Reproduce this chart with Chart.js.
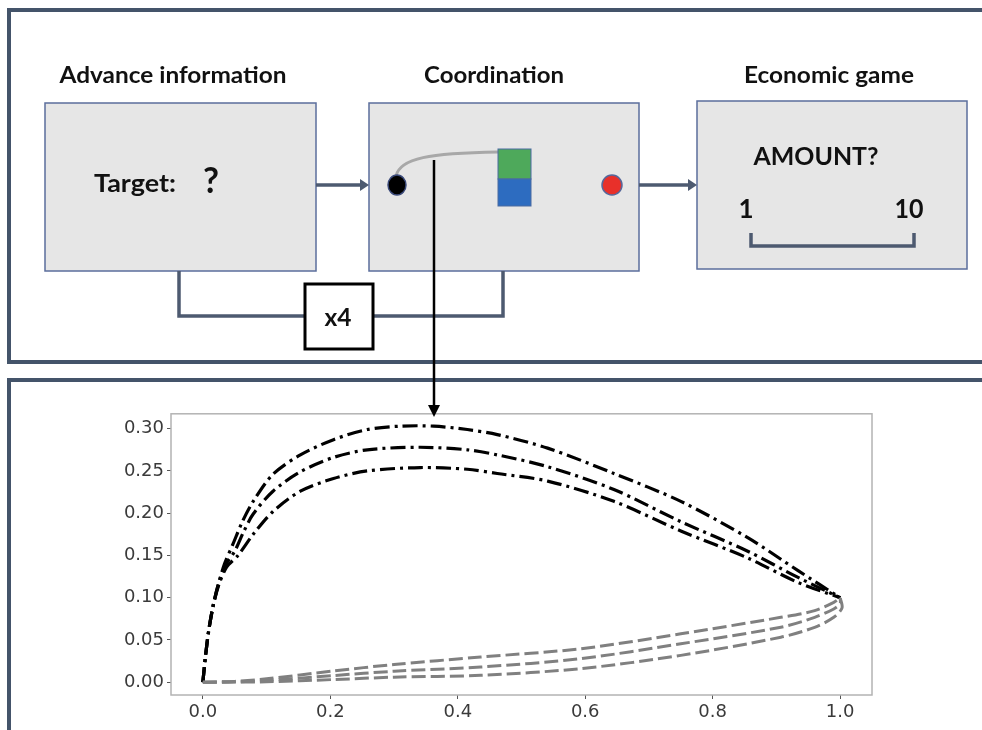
<!DOCTYPE html>
<html>
<head>
<meta charset="utf-8">
<script src="https://cdn.jsdelivr.net/npm/chart.js@4"></script>
<style>
  html, body { margin: 0; padding: 0; background: #fff; }
  #page { position: relative; width: 982px; height: 730px; overflow: hidden; }
  #plot { position: absolute; left: 100px; top: 400px; width: 800px; height: 330px; z-index: 1; }
  #diagram { position: absolute; left: 0; top: 0; z-index: 2; pointer-events: none; }
  #diagram text { font-family: Lato, "Liberation Sans", sans-serif; font-weight: bold; fill: #111; }
</style>
</head>
<body>
<div id="page">
  <div id="plot"><canvas id="chart"></canvas></div>
  <svg id="diagram" width="982" height="730" viewBox="0 0 982 730">
    <!-- panel frames -->
    <g stroke="#44546a" stroke-width="4" fill="none">
      <line x1="7" y1="10" x2="982" y2="10"/>
      <line x1="9" y1="8" x2="9" y2="364"/>
      <line x1="7" y1="362" x2="982" y2="362"/>
      <line x1="7" y1="380" x2="982" y2="380"/>
      <line x1="9" y1="378" x2="9" y2="730"/>
    </g>
    <!-- stage titles -->
    <text x="173" y="83" font-size="22" text-anchor="middle" textLength="227" lengthAdjust="spacingAndGlyphs">Advance information</text>
    <text x="494" y="83" font-size="22" text-anchor="middle" textLength="140" lengthAdjust="spacingAndGlyphs">Coordination</text>
    <text x="829" y="83" font-size="22" text-anchor="middle" textLength="170" lengthAdjust="spacingAndGlyphs">Economic game</text>
    <!-- stage boxes -->
    <g fill="#e6e6e6" stroke="#5b6e9c" stroke-width="1.5">
      <rect x="45" y="103" width="271" height="168"/>
      <rect x="369" y="103" width="270" height="168"/>
      <rect x="697" y="101" width="270" height="168"/>
    </g>
    <!-- flow arrows -->
    <g stroke="#4d5a70" stroke-width="3.5" fill="none">
      <line x1="316" y1="185" x2="362" y2="185"/>
      <line x1="639" y1="185" x2="690" y2="185"/>
      <polyline points="179,271 179,316 305,316"/>
      <polyline points="373,316 503,316 503,271"/>
      <polyline points="751,233 751,246 914,246 914,233"/>
    </g>
    <g fill="#4d5a70">
      <polygon points="360,179 369,185 360,191"/>
      <polygon points="688,179 697,185 688,191"/>
    </g>
    <!-- repeat box -->
    <rect x="305" y="284" width="68" height="65" fill="#fff" stroke="#000" stroke-width="3"/>
    <text x="338" y="326" font-size="24" text-anchor="middle" textLength="27" lengthAdjust="spacingAndGlyphs">x4</text>
    <!-- advance information -->
    <text x="94" y="192" font-size="24" textLength="82" lengthAdjust="spacingAndGlyphs">Target:</text>
    <text x="211" y="193" font-size="36" text-anchor="middle" textLength="16" lengthAdjust="spacingAndGlyphs">?</text>
    <!-- coordination screen -->
    <path d="M 396 176 C 400 158, 430 153, 498 152" stroke="#a8a8a8" stroke-width="3" fill="none"/>
    <ellipse cx="397" cy="185" rx="9" ry="10" fill="#000" stroke="#3b4a7a" stroke-width="1.5"/>
    <circle cx="612" cy="185" r="10" fill="#e8302a" stroke="#56679a" stroke-width="1.5"/>
    <rect x="498" y="149" width="33" height="30" fill="#4ea95b" stroke="#4a6aa0" stroke-width="1"/>
    <rect x="498" y="179" width="33" height="27" fill="#2d6cc0" stroke="#4a6aa0" stroke-width="1"/>
    <!-- economic game -->
    <text x="816" y="165" font-size="24" text-anchor="middle" textLength="125" lengthAdjust="spacingAndGlyphs">AMOUNT?</text>
    <text x="746" y="218" font-size="26" text-anchor="middle">1</text>
    <text x="909" y="218" font-size="26" text-anchor="middle" textLength="29" lengthAdjust="spacingAndGlyphs">10</text>
    <!-- pointer from the trajectory to the plot -->
    <line x1="434" y1="160" x2="434" y2="407" stroke="#000" stroke-width="2.5"/>
    <polygon points="428,405 440,405 434,417" fill="#000"/>
  </svg>
</div>
<script>
// Trajectories: three dash-dot (black) and three dashed (grey), x vs y
const dashDotTopX = [0, 0.004, 0.009, 0.016, 0.024, 0.034, 0.047, 0.062, 0.079, 0.11, 0.153, 0.205, 0.258, 0.31, 0.362, 0.415, 0.462, 0.541, 0.645, 0.75, 0.855, 0.934, 1.0];
const dashDotTopY = [0, 0.03, 0.06, 0.09, 0.115, 0.14, 0.163, 0.19, 0.214, 0.246, 0.269, 0.287, 0.299, 0.303, 0.303, 0.299, 0.293, 0.277, 0.247, 0.214, 0.171, 0.132, 0.1];

const dashDotMidX = [0, 0.004, 0.009, 0.016, 0.024, 0.035, 0.05, 0.064, 0.079, 0.11, 0.153, 0.205, 0.258, 0.341, 0.415, 0.462, 0.541, 0.645, 0.75, 0.855, 0.934, 1.0];
const dashDotMidY = [0, 0.03, 0.06, 0.09, 0.115, 0.138, 0.155, 0.178, 0.199, 0.226, 0.249, 0.266, 0.275, 0.278, 0.275, 0.269, 0.255, 0.228, 0.19, 0.155, 0.124, 0.1];

const dashDotLowX = [0, 0.004, 0.009, 0.016, 0.025, 0.037, 0.055, 0.079, 0.11, 0.153, 0.205, 0.258, 0.341, 0.415, 0.462, 0.541, 0.645, 0.75, 0.855, 0.934, 1.0];
const dashDotLowY = [0, 0.03, 0.06, 0.09, 0.115, 0.136, 0.15, 0.175, 0.202, 0.226, 0.241, 0.25, 0.254, 0.252, 0.247, 0.238, 0.214, 0.179, 0.147, 0.118, 0.1];

const dashedTopX = [0, 0.05, 0.1, 0.205, 0.3, 0.436, 0.593, 0.75, 0.907, 0.96, 0.99, 1.0];
const dashedTopY = [0, 0.001, 0.004, 0.0133, 0.021, 0.0298, 0.0396, 0.0573, 0.0768, 0.0847, 0.0945, 0.1];

const dashedMidX = [0, 0.05, 0.1, 0.205, 0.3, 0.436, 0.593, 0.75, 0.907, 0.96, 0.99, 1.0, 1.0];
const dashedMidY = [0, 0.0005, 0.002, 0.0079, 0.013, 0.018, 0.0279, 0.0455, 0.0651, 0.0768, 0.0867, 0.093, 0.1];

const dashedLowX = [0, 0.05, 0.1, 0.205, 0.3, 0.436, 0.593, 0.75, 0.907, 0.96, 0.99, 1.003, 1.0];
const dashedLowY = [0, 0.0002, 0.0005, 0.0032, 0.006, 0.0082, 0.0161, 0.0318, 0.0533, 0.065, 0.0768, 0.088, 0.1];

// Axis ticks and limits
const xTicks = [0.0, 0.2, 0.4, 0.6, 0.8, 1.0];
const yTicks = [0.00, 0.05, 0.10, 0.15, 0.20, 0.25, 0.30];
const xLimits = [-0.05, 1.05];
const yLimits = [-0.0151, 0.3176];

const toPoints = (xs, ys) => xs.map((x, i) => ({ x: x, y: ys[i] }));

const dashedStyle = {
  borderColor: '#808080', borderWidth: 3, borderDash: [14, 5],
  pointRadius: 0, showLine: true, fill: false, tension: 0.3, borderCapStyle: 'butt'
};
const dashDotStyle = {
  borderColor: '#000000', borderWidth: 3.2, borderDash: [15, 5, 3, 5],
  pointRadius: 0, showLine: true, fill: false, tension: 0.3, borderCapStyle: 'butt'
};

// Box around the plotting area
const frame = {
  id: 'frame',
  afterDatasetsDraw(chart) {
    const a = chart.chartArea, c = chart.ctx;
    c.save();
    c.strokeStyle = '#b3b3b3';
    c.lineWidth = 1.5;
    c.strokeRect(a.left, a.top, a.right - a.left, a.bottom - a.top);
    c.restore();
  }
};

const tickFont = { family: '"DejaVu Sans", sans-serif', size: 18 };

new Chart(document.getElementById('chart'), {
  type: 'scatter',
  data: {
    datasets: [
      Object.assign({ data: toPoints(dashedTopX, dashedTopY) }, dashedStyle),
      Object.assign({ data: toPoints(dashedMidX, dashedMidY) }, dashedStyle),
      Object.assign({ data: toPoints(dashedLowX, dashedLowY) }, dashedStyle),
      Object.assign({ data: toPoints(dashDotTopX, dashDotTopY) }, dashDotStyle),
      Object.assign({ data: toPoints(dashDotMidX, dashDotMidY) }, dashDotStyle),
      Object.assign({ data: toPoints(dashDotLowX, dashDotLowY) }, dashDotStyle)
    ]
  },
  options: {
    responsive: true,
    maintainAspectRatio: false,
    animation: false,
    layout: { padding: { left: 0, right: 28, top: 12, bottom: 0 } },
    plugins: { legend: { display: false }, tooltip: { enabled: false } },
    scales: {
      x: {
        type: 'linear', min: xLimits[0], max: xLimits[1],
        afterBuildTicks: s => { s.ticks = xTicks.map(v => ({ value: v })); },
        afterFit: s => { s.height = 35; },
        ticks: { font: tickFont, color: '#3a3a3a', padding: 3, maxRotation: 0,
                 callback: v => Number(v).toFixed(1) },
        grid: { drawOnChartArea: false, drawTicks: true, tickLength: 4, color: '#555' },
        border: { display: false }
      },
      y: {
        type: 'linear', min: yLimits[0], max: yLimits[1],
        afterBuildTicks: s => { s.ticks = yTicks.map(v => ({ value: v })); },
        afterFit: s => { s.width = 71; },
        ticks: { font: tickFont, color: '#3a3a3a', padding: 3,
                 callback: v => Number(v).toFixed(2) },
        grid: { drawOnChartArea: false, drawTicks: true, tickLength: 4, color: '#555' },
        border: { display: false }
      }
    }
  },
  plugins: [frame]
});
</script>
</body>
</html>
